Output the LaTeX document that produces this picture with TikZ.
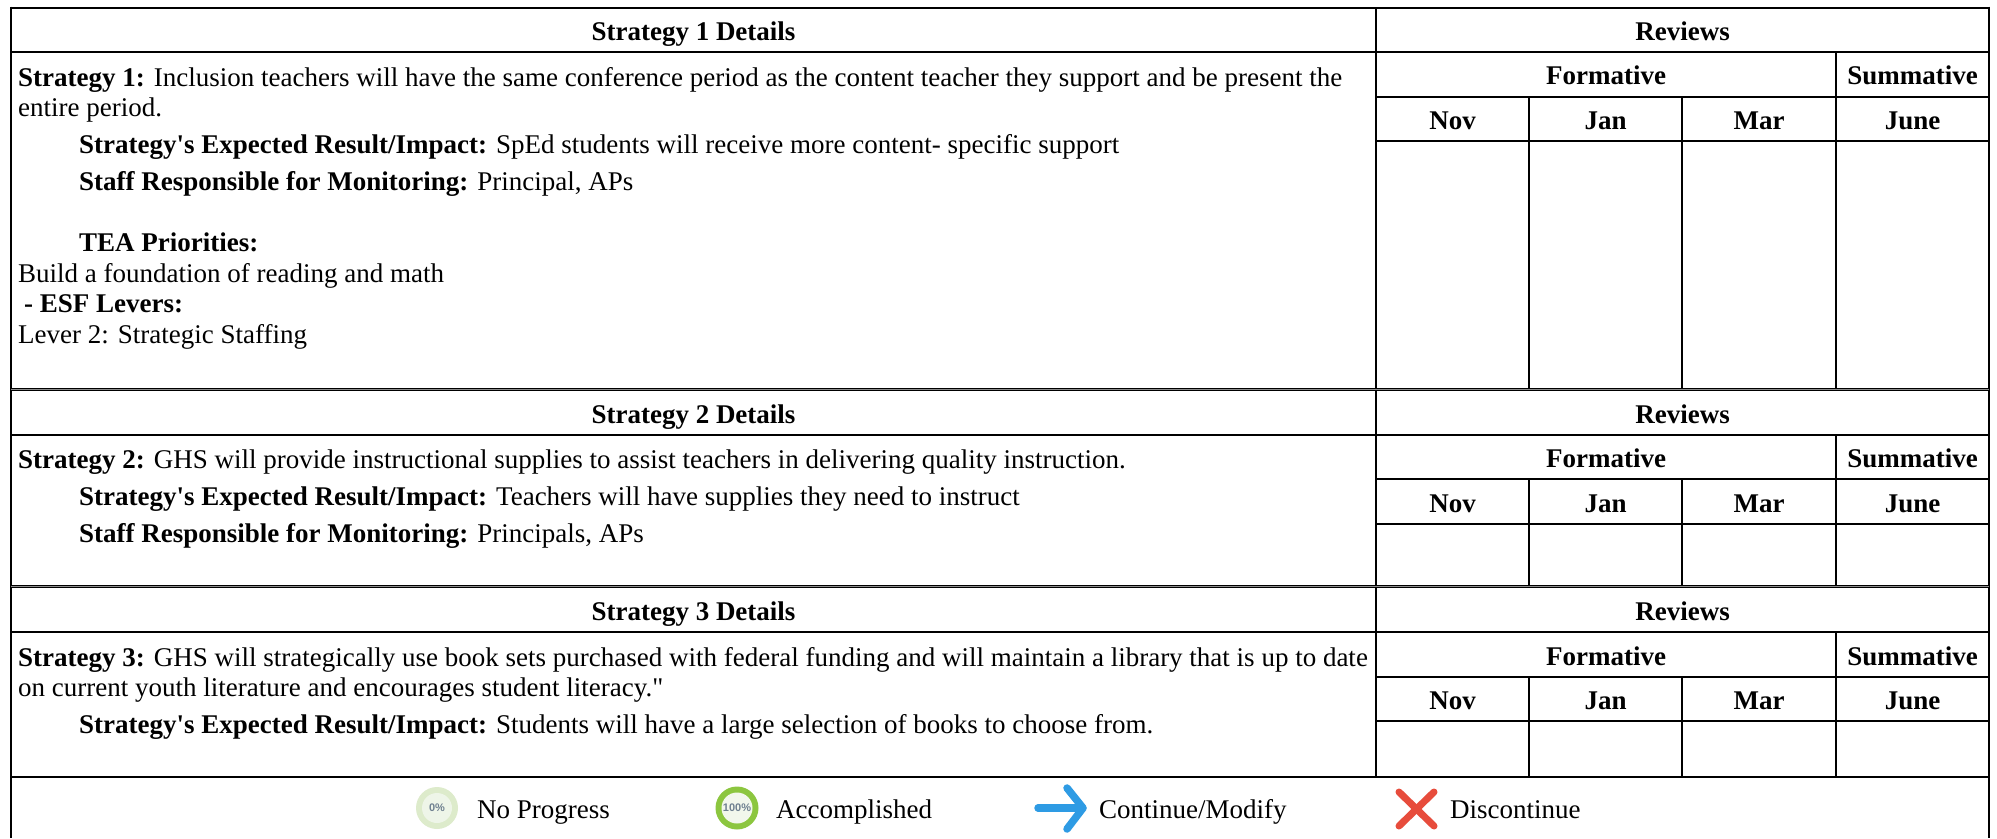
\documentclass[tikz,border=0pt]{standalone}
\usepackage{fontspec}
\setmainfont{Liberation Serif}[Ligatures=TeXOff]
\newfontfamily\iconfont{Liberation Sans}
\newcommand\mainfs{\fontsize{27}{30.7}\selectfont}
\definecolor{ringzero}{HTML}{DDEBCB}
\definecolor{innerzero}{HTML}{EEF5E8}
\definecolor{ringfull}{HTML}{8CC63F}
\definecolor{innerfull}{HTML}{F2F7EC}
\definecolor{icontext}{HTML}{6F8090}
\definecolor{arrowblue}{HTML}{2E9BE4}
\definecolor{crossred}{HTML}{E74C3C}
\begin{document}
\begin{tikzpicture}[x=1pt,y=-1pt,
  gridline/.style={line width=2pt, black},
  dblline/.style={line width=2.9pt, black},
  dblmid/.style={line width=0.8pt, black!45},
  bodytxt/.style={anchor=base west, inner sep=0pt, font=\mainfs},
  headtxt/.style={anchor=base, inner sep=0pt, font=\mainfs\bfseries},
  icontxt/.style={inner sep=0pt, font=\iconfont\fontsize{11}{11}\selectfont\bfseries, text=icontext},
  legendtxt/.style={anchor=base west, inner sep=0pt, font=\mainfs}]
\useasboundingbox (0,0) rectangle (1997,838);
\fill[white] (0,0) rectangle (1997,838);

% ---------- grid ----------
\draw[gridline] (11,7.5) -- (1989,7.5);
\draw[gridline] (11,6.5) -- (11,838);
\draw[gridline] (1989,6.5) -- (1989,838);
\draw[gridline] (1376,7.5) -- (1376,777);
% block 1
\draw[gridline] (11,52) -- (1989,52);
\draw[gridline] (1376,96.5) -- (1989,96.5);
\draw[gridline] (1376,140.7) -- (1989,140.7);
\draw[gridline] (1529,96.5) -- (1529,389.6);
\draw[gridline] (1682,96.5) -- (1682,389.6);
\draw[gridline] (1836,52) -- (1836,389.6);
% separator 1/2
\draw[dblline] (11,389.6) -- (1989,389.6);
\draw[dblmid] (11,389.6) -- (1989,389.6);
% block 2
\draw[gridline] (11,434.5) -- (1989,434.5);
\draw[gridline] (1376,479) -- (1989,479);
\draw[gridline] (1376,523.5) -- (1989,523.5);
\draw[gridline] (1529,479) -- (1529,586.3);
\draw[gridline] (1682,479) -- (1682,586.3);
\draw[gridline] (1836,434.5) -- (1836,586.3);
% separator 2/3
\draw[dblline] (11,586.3) -- (1989,586.3);
\draw[dblmid] (11,586.3) -- (1989,586.3);
% block 3
\draw[gridline] (11,632) -- (1989,632);
\draw[gridline] (1376,676.5) -- (1989,676.5);
\draw[gridline] (1376,721) -- (1989,721);
\draw[gridline] (1529,676.5) -- (1529,777);
\draw[gridline] (1682,676.5) -- (1682,777);
\draw[gridline] (1836,632) -- (1836,777);
\draw[gridline] (11,777) -- (1989,777);

% ---------- block 1 headers ----------
\node[headtxt] (h1) at (693.5,40.5) {Strategy 1 Details};
\node[headtxt] (r1) at (1682.5,40.5) {Reviews};
\node[headtxt] (f1) at (1606,84.5) {Formative};
\node[headtxt] (s1) at (1912.5,84.5) {Summative};
\node[headtxt] (n1) at (1452.5,129.4) {Nov};
\node[headtxt] (j1) at (1605.5,129.4) {Jan};
\node[headtxt] (m1) at (1759,129.4) {Mar};
\node[headtxt] (u1) at (1912.5,129.4) {June};
% block 1 body
\node[bodytxt] (a1) at (18,86) {\textbf{Strategy 1:} Inclusion teachers will have the same conference period as the content teacher they support and be present the};
\node[bodytxt] (a2) at (18,116.5) {entire period.};
\node[bodytxt] (a3) at (79,153) {\textbf{Strategy's Expected Result/Impact:} SpEd students will receive more content- specific support};
\node[bodytxt] (a4) at (79,190) {\textbf{Staff Responsible for Monitoring:} Principal, APs};
\node[bodytxt] (a5) at (79,251.4) {\textbf{TEA Priorities:}};
\node[bodytxt] (a6) at (18,282.1) {Build a foundation of reading and math};
\node[bodytxt] (a7) at (24,312.8) {\textbf{- ESF Levers:}};
\node[bodytxt] (a8) at (18,343.5) {Lever 2: Strategic Staffing};

% ---------- block 2 ----------
\node[headtxt] (h2) at (693.5,423) {Strategy 2 Details};
\node[headtxt] (r2) at (1682.5,423) {Reviews};
\node[headtxt] (f2) at (1606,467) {Formative};
\node[headtxt] (s2) at (1912.5,467) {Summative};
\node[headtxt] (n2) at (1452.5,512) {Nov};
\node[headtxt] (j2) at (1605.5,512) {Jan};
\node[headtxt] (m2) at (1759,512) {Mar};
\node[headtxt] (u2) at (1912.5,512) {June};
\node[bodytxt] (b1) at (18,468.5) {\textbf{Strategy 2:} GHS will provide instructional supplies to assist teachers in delivering quality instruction.};
\node[bodytxt] (b2) at (79,505.5) {\textbf{Strategy's Expected Result/Impact:} Teachers will have supplies they need to instruct};
\node[bodytxt] (b3) at (79,542.5) {\textbf{Staff Responsible for Monitoring:} Principals, APs};

% ---------- block 3 ----------
\node[headtxt] (h3) at (693.5,620.5) {Strategy 3 Details};
\node[headtxt] (r3) at (1682.5,620.5) {Reviews};
\node[headtxt] (f3) at (1606,665) {Formative};
\node[headtxt] (s3) at (1912.5,665) {Summative};
\node[headtxt] (n3) at (1452.5,709.5) {Nov};
\node[headtxt] (j3) at (1605.5,709.5) {Jan};
\node[headtxt] (m3) at (1759,709.5) {Mar};
\node[headtxt] (u3) at (1912.5,709.5) {June};
\node[bodytxt] (c1) at (18,666) {\textbf{Strategy 3:} GHS will strategically use book sets purchased with federal funding and will maintain a library that is up to date};
\node[bodytxt] (c2) at (18,696.7) {on current youth literature and encourages student literacy."};
\node[bodytxt] (c3) at (79,733.5) {\textbf{Strategy's Expected Result/Impact:} Students will have a large selection of books to choose from.};

% ---------- legend ----------
\fill[ringzero] (437,808) circle (21pt);
\fill[innerzero] (437,808) circle (15pt);
\node[icontxt] (p0) at (437,808) {0\%};
\node[legendtxt] (l1) at (477,818) {No Progress};

\fill[ringfull] (737,808) circle (21.5pt);
\fill[innerfull] (737,808) circle (15.5pt);
\node[icontxt] (p100) at (737,808) {100\%};
\node[legendtxt] (l2) at (776,818) {Accomplished};

\draw[arrowblue, line width=7.5pt, line cap=round, line join=round] (1038,808) -- (1082,808);
\draw[arrowblue, line width=7.5pt, line cap=round, line join=round] (1067,788) -- (1083,808) -- (1067,829);
\node[legendtxt] (l3) at (1099,818) {Continue/Modify};

\draw[crossred, line width=7pt, line cap=round] (1399,792) -- (1434,826);
\draw[crossred, line width=7pt, line cap=round] (1399,826) -- (1434,792);
\node[legendtxt] (l4) at (1450,818) {Discontinue};
\end{tikzpicture}
\end{document}
